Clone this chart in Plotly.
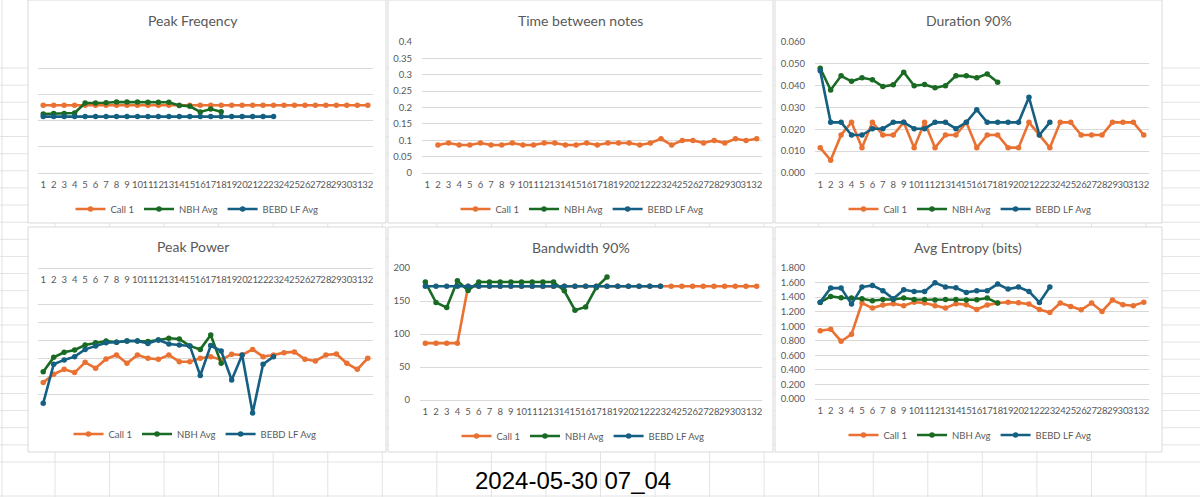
import plotly.graph_objects as go

W, H = 1200, 497

# ---------------- data ----------------
CATEGORIES = list(range(1, 33))
TICK_LABELS = [str(c) for c in CATEGORIES]
SERIES_NAMES = ["Call 1", "NBH Avg", "BEBD LF Avg"]
SERIES_COLORS = ["#E97132", "#196B24", "#156082"]

PF_CALL1 = [2584, 2584, 2584, 2584, 2584, 2584, 2584, 2584, 2584, 2584, 2584, 2584, 2584, 2584, 2584, 2584,
            2584, 2584, 2584, 2584, 2584, 2584, 2584, 2584, 2584, 2584, 2584, 2584, 2584, 2584, 2584, 2584]
PF_NBH = [2250, 2270, 2270, 2290, 2670, 2670, 2680, 2710, 2710, 2710, 2700, 2700, 2700, 2580, 2545, 2330, 2440, 2340]
PF_BEBD = [2153, 2153, 2153, 2153, 2153, 2153, 2153, 2153, 2153, 2153, 2153, 2153, 2153, 2153, 2153, 2153,
           2153, 2153, 2153, 2153, 2153, 2153, 2153]

TBN_CALL1 = [None, 0.0855, 0.0915, 0.0855, 0.0855, 0.0915, 0.0855, 0.0855, 0.0915, 0.0855, 0.0855, 0.0915,
             0.0915, 0.0855, 0.0855, 0.0915, 0.0855, 0.0915, 0.0915, 0.0915, 0.0855, 0.0915, 0.1045, 0.0855,
             0.0995, 0.0995, 0.0915, 0.0995, 0.0915, 0.1045, 0.0995, 0.1045]
TBN_NBH = []
TBN_BEBD = []

DUR_CALL1 = [0.0116, 0.0058, 0.0174, 0.0232, 0.0116, 0.0232, 0.0174, 0.0174, 0.0232, 0.0116, 0.0232, 0.0116,
             0.0174, 0.0174, 0.0232, 0.0116, 0.0174, 0.0174, 0.0116, 0.0116, 0.0232, 0.0174, 0.0116, 0.0232,
             0.0232, 0.0174, 0.0174, 0.0174, 0.0232, 0.0232, 0.0232, 0.0174]
DUR_NBH = [0.0480, 0.0380, 0.0445, 0.0420, 0.0436, 0.0427, 0.0396, 0.0404, 0.0462, 0.0400, 0.0405, 0.0390,
           0.0400, 0.0445, 0.0445, 0.0436, 0.0454, 0.0416]
DUR_BEBD = [0.0468, 0.0232, 0.0232, 0.0174, 0.0174, 0.0203, 0.0203, 0.0232, 0.0232, 0.0203, 0.0203, 0.0232,
            0.0232, 0.0203, 0.0232, 0.0290, 0.0232, 0.0232, 0.0232, 0.0232, 0.0347, 0.0174, 0.0232]

PP_CALL1 = [-63.2, -58.6, -55.9, -57.7, -52.0, -55.3, -50.2, -48.0, -52.6, -48.0, -49.8, -50.4, -48.0, -51.7,
            -51.7, -49.8, -48.9, -50.7, -47.6, -48.0, -44.9, -48.9, -48.0, -46.7, -46.3, -50.4, -51.3, -48.0,
            -47.4, -52.6, -55.9, -49.8]
PP_NBH = [-57.2, -49.3, -46.5, -45.2, -42.5, -41.2, -40.3, -41.0, -40.3, -40.3, -40.6, -39.7, -38.8, -39.2,
          -43.0, -44.9, -37.0, -52.6]
PP_BEBD = [-74.6, -53.1, -50.7, -48.9, -44.9, -43.0, -41.2, -41.0, -40.3, -40.3, -41.6, -39.7, -41.9, -42.5,
           -43.0, -59.3, -42.8, -45.8, -61.8, -48.0, -80.0, -53.1, -48.9]

BW_CALL1 = [86.1, 86.1, 86.1, 86.1, 172.3, 172.3, 172.3, 172.3, 172.3, 172.3, 172.3, 172.3, 172.3, 172.3,
            172.3, 172.3, 172.3, 172.3, 172.3, 172.3, 172.3, 172.3, 172.3, 172.3, 172.3, 172.3, 172.3, 172.3,
            172.3, 172.3, 172.3, 172.3]
BW_NBH = [178.7, 147.7, 140.0, 180.7, 166.0, 178.7, 178.7, 178.7, 178.7, 178.7, 178.7, 178.7, 178.7, 165.5,
          136.0, 141.0, 170.6, 186.3]
BW_BEBD = [172.3, 172.3, 172.3, 172.3, 172.3, 172.3, 172.3, 172.3, 172.3, 172.3, 172.3, 172.3, 172.3, 172.3,
           172.3, 172.3, 172.3, 172.3, 172.3, 172.3, 172.3, 172.3, 172.3]

EN_CALL1 = [0.937, 0.960, 0.794, 0.890, 1.318, 1.249, 1.290, 1.310, 1.281, 1.331, 1.318, 1.281, 1.249, 1.310,
            1.295, 1.230, 1.290, 1.318, 1.331, 1.322, 1.304, 1.230, 1.189, 1.318, 1.272, 1.226, 1.318, 1.203,
            1.359, 1.295, 1.281, 1.331]
EN_NBH = [1.327, 1.410, 1.391, 1.387, 1.377, 1.350, 1.368, 1.368, 1.387, 1.368, 1.368, 1.359, 1.368, 1.368,
          1.359, 1.363, 1.387, 1.318]
EN_BEBD = [1.331, 1.524, 1.524, 1.304, 1.538, 1.561, 1.488, 1.377, 1.501, 1.478, 1.478, 1.598, 1.538, 1.529,
           1.465, 1.488, 1.488, 1.579, 1.510, 1.538, 1.478, 1.327, 1.538]

SHEET_LABEL = "2024-05-30 07_04"

# ---------------- layout helpers ----------------
FONT = "Lato, 'Open Sans', sans-serif"
TXT = "#595959"
GRID = "#D9D9D9"
CELL = "#E3E3E3"


def fx(x):
    return x / W


def fy(y):
    return 1 - y / H


charts = [
    dict(title="Peak Freqency", data=(PF_CALL1, PF_NBH, PF_BEBD), box=(28, 0, 386, 223),
         plot=(38, 42, 373, 173), t=(193, 20), lg=(197, 209), yr=[0, 5000], dtick=1000,
         labels=False, fmt=""),
    dict(title="Time between notes", data=(TBN_CALL1, TBN_NBH, TBN_BEBD), box=(388, 0, 773, 223),
         plot=(422, 42, 762, 173), t=(580, 20), lg=(582, 209), yr=[0, 0.4], dtick=0.05,
         labels=True, fmt=""),
    dict(title="Duration 90%", data=(DUR_CALL1, DUR_NBH, DUR_BEBD), box=(775, 0, 1162, 223),
         plot=(815, 42, 1149, 173), t=(969, 20), lg=(970, 209), yr=[0, 0.06], dtick=0.01,
         labels=True, fmt=".3f"),
    dict(title="Peak Power", data=(PP_CALL1, PP_NBH, PP_BEBD), box=(28, 227, 386, 452),
         plot=(38, 268, 373, 413), t=(193, 246), lg=(195, 434), yr=[-80, 0], dtick=10,
         labels=False, fmt="", top=True),
    dict(title="Bandwidth 90%", data=(BW_CALL1, BW_NBH, BW_BEBD), box=(388, 227, 773, 452),
         plot=(420, 268, 762, 400), t=(581, 247), lg=(583, 436), yr=[0, 200], dtick=50,
         labels=True, fmt=""),
    dict(title="Avg Entropy (bits)", data=(EN_CALL1, EN_NBH, EN_BEBD), box=(775, 227, 1162, 452),
         plot=(815, 268, 1149, 399), t=(968, 247), lg=(970, 435), yr=[0, 1.8], dtick=0.2,
         labels=True, fmt=".3f"),
]

fig = go.Figure()
shapes = []
annotations = []
layout = dict(
    width=W, height=H, autosize=False,
    margin=dict(l=0, r=0, t=0, b=0, pad=0, autoexpand=False),
    paper_bgcolor="white", plot_bgcolor="rgba(0,0,0,0)",
    font=dict(family=FONT, color=TXT, size=10),
    showlegend=True,
)

# spreadsheet grid (behind the chart panels)
for k in range(24):
    y = 68 + 17.13 * k
    shapes.append(dict(type="line", xref="paper", yref="paper", x0=0, x1=1, y0=fy(y), y1=fy(y),
                       line=dict(color=CELL, width=1), layer="below"))
shapes.append(dict(type="line", xref="paper", yref="paper", x0=0, x1=1, y0=fy(496), y1=fy(496),
                   line=dict(color=CELL, width=1), layer="below"))
for k in range(22):
    x = 55 + 54.55 * k
    shapes.append(dict(type="line", xref="paper", yref="paper", x0=fx(x), x1=fx(x), y0=0, y1=1,
                       line=dict(color=CELL, width=1), layer="below"))
shapes.append(dict(type="line", xref="paper", yref="paper", x0=fx(2), x1=fx(2), y0=0, y1=1,
                   line=dict(color=CELL, width=1), layer="below"))

for i, c in enumerate(charts, start=1):
    sfx = "" if i == 1 else str(i)
    x0, y0, x1, y1 = c["box"]
    shapes.append(dict(type="rect", xref="paper", yref="paper", x0=fx(x0), x1=fx(x1), y0=fy(y1), y1=fy(y0),
                       fillcolor="white", line=dict(color=GRID, width=1), layer="below"))
    px0, py0, px1, py1 = c["plot"]
    top = c.get("top", False)
    xa = dict(
        domain=[fx(px0), fx(px1)], range=[0.5, 32.5], anchor="y" + sfx,
        tickmode="array", tickvals=CATEGORIES, ticktext=TICK_LABELS, tickangle=0,
        showgrid=False, zeroline=False, showline=True, linecolor=GRID, linewidth=1,
        ticks="outside", ticklen=3, tickcolor="rgba(0,0,0,0)", automargin=False,
        tickfont=dict(family=FONT, size=9.5, color=TXT), fixedrange=True,
    )
    if top:
        # horizontal axis crosses at the top (value 0), labels hang below it
        xa.update(anchor="free", position=fy(py0), side="bottom")
    if c["title"] == "Peak Power":
        yticks = [0, -20, -30, -40, -50, -60, -70, -80]
    else:
        n = int(round((c["yr"][1] - c["yr"][0]) / c["dtick"]))
        yticks = [c["yr"][0] + c["dtick"] * j for j in range(n + 1)]
    ya = dict(
        domain=[fy(py1), fy(py0)], range=c["yr"], anchor="x" + sfx,
        tickmode="array", tickvals=yticks,
        ticktext=[(format(v, c["fmt"]) if c["fmt"] else f"{v:g}") for v in yticks],
        showgrid=True, gridcolor=GRID, gridwidth=1, zeroline=False, showline=False,
        showticklabels=c["labels"], ticks="outside", ticklen=7, tickcolor="rgba(0,0,0,0)",
        automargin=False,
        tickfont=dict(family=FONT, size=9.5, color=TXT), fixedrange=True,
    )
    layout["xaxis" + sfx] = xa
    layout["yaxis" + sfx] = ya
    lgname = "legend" + sfx
    layout[lgname] = dict(
        orientation="h", x=fx(c["lg"][0]), y=fy(c["lg"][1]), xanchor="center", yanchor="middle",
        bgcolor="rgba(0,0,0,0)", font=dict(family=FONT, size=9.5, color=TXT),
        itemwidth=30, tracegroupgap=0, traceorder="normal",
    )
    for name, color, vals in zip(SERIES_NAMES, SERIES_COLORS, c["data"]):
        yv = list(vals) + [None] * (len(CATEGORIES) - len(vals))
        fig.add_trace(go.Scatter(
            x=CATEGORIES, y=yv, name=name, mode="lines+markers",
            line=dict(color=color, width=2.6), marker=dict(color=color, size=5.5),
            xaxis="x" + sfx, yaxis="y" + sfx, legend=lgname, cliponaxis=False,
            connectgaps=False, hoverinfo="skip",
        ))
    annotations.append(dict(text=c["title"], x=fx(c["t"][0]), y=fy(c["t"][1]), xref="paper", yref="paper",
                            xanchor="center", yanchor="middle", showarrow=False,
                            font=dict(family=FONT, size=14, color=TXT)))

annotations.append(dict(text=SHEET_LABEL, x=fx(573), y=fy(480), xref="paper", yref="paper",
                        xanchor="center", yanchor="middle", showarrow=False,
                        font=dict(family="'Liberation Sans Narrow', 'Arial Narrow', sans-serif", size=24,
                                  color="black")))

layout["shapes"] = shapes
layout["annotations"] = annotations
fig.update_layout(**layout)
fig.write_html("out.html", config={"displayModeBar": False, "staticPlot": False},
               post_script="document.body.style.margin='0';")
